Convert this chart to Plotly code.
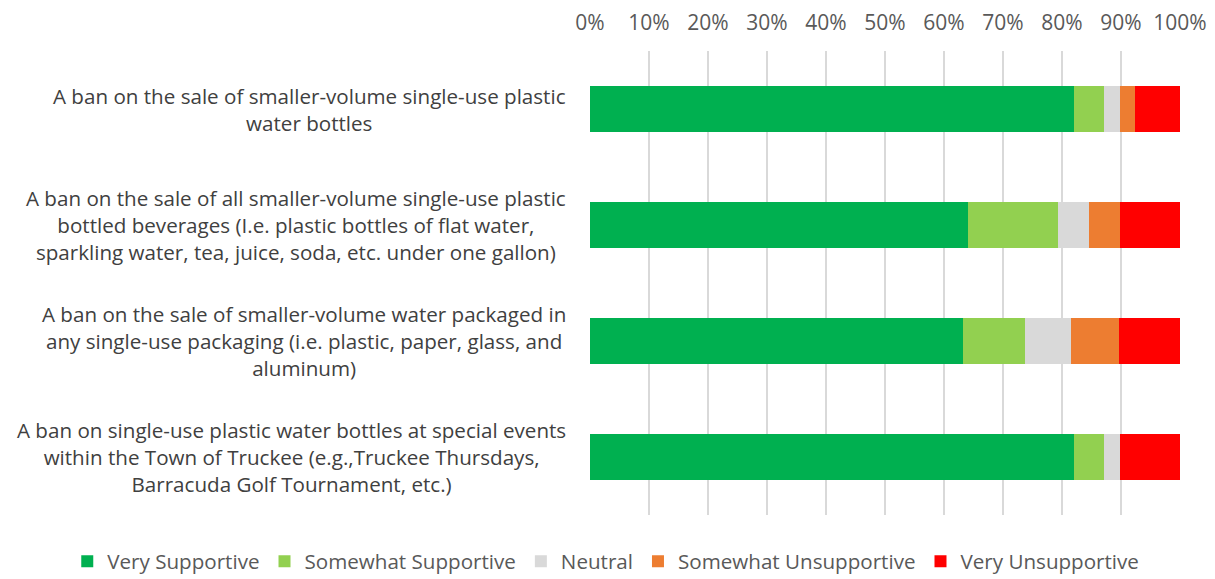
import plotly.graph_objects as go

categories = [
    "A ban on the sale of smaller-volume single-use plastic<br>water bottles",
    "A ban on the sale of all smaller-volume single-use plastic<br>bottled beverages (I.e. plastic bottles of flat water,<br>sparkling water, tea, juice, soda, etc. under one gallon)",
    "A ban on the sale of smaller-volume water packaged in<br>any single-use packaging (i.e. plastic, paper, glass, and<br>aluminum)",
    "A ban on single-use plastic water bottles at special events<br>within the Town of Truckee (e.g.,Truckee Thursdays,<br>Barracuda Golf Tournament, etc.)",
]
series_names = ["Very Supportive", "Somewhat Supportive", "Neutral", "Somewhat Unsupportive", "Very Unsupportive"]
very_supportive = [82.0, 64.0, 63.2, 82.0]
somewhat_supportive = [5.2, 15.4, 10.5, 5.2]
neutral = [2.6, 5.2, 7.9, 2.6]
somewhat_unsupportive = [2.5, 5.2, 8.0, 0.0]
very_unsupportive = [7.7, 10.2, 10.4, 10.2]
colors = ["#00B050", "#92D050", "#D9D9D9", "#ED7D31", "#FF0000"]
tick_vals = [0, 10, 20, 30, 40, 50, 60, 70, 80, 90, 100]
tick_text = [f"{v}%" for v in tick_vals]

values = [very_supportive, somewhat_supportive, neutral, somewhat_unsupportive, very_unsupportive]

fig = go.Figure()
for name, vals, col in zip(series_names, values, colors):
    fig.add_trace(go.Bar(
        y=categories, x=vals, name=name, orientation="h",
        marker=dict(color=col, line=dict(width=0)),
    ))

font_family = "Open Sans, Liberation Sans, sans-serif"

# Category labels as centered multi-line annotations
for cat in categories:
    fig.add_annotation(
        x=0, xref="paper", y=cat, yref="y",
        text=cat, showarrow=False, xanchor="right", yanchor="middle",
        align="center", xshift=-22,
        font=dict(family=font_family, size=20.6, color="#404040"),
    )

# page body has an 8px margin, so the figure is sized/offset to compensate
fig.update_layout(
    barmode="stack",
    bargap=0.6,
    width=1207, height=571,
    margin=dict(l=582, r=35, t=43, b=64, autoexpand=False),
    plot_bgcolor="white", paper_bgcolor="white",
    font=dict(family=font_family, size=20, color="#404040"),
    xaxis=dict(
        side="top", range=[0, 100], tickvals=tick_vals, ticktext=tick_text,
        showgrid=True, gridcolor="#D9D9D9", gridwidth=1.5, zeroline=False,
        tickfont=dict(size=21, color="#595959"), showline=False,
        ticklabelstandoff=16, automargin=False,
    ),
    yaxis=dict(
        autorange="reversed", showgrid=False, showticklabels=False,
        showline=False, automargin=False,
    ),
    legend=dict(
        orientation="h", xref="paper", x=-0.886, xanchor="left",
        yref="paper", y=-0.1, yanchor="middle",
        font=dict(size=20.6, color="#595959"), traceorder="normal",
        itemwidth=30, borderwidth=0, bgcolor="rgba(0,0,0,0)",
    ),
)

fig.write_html("out.html")
